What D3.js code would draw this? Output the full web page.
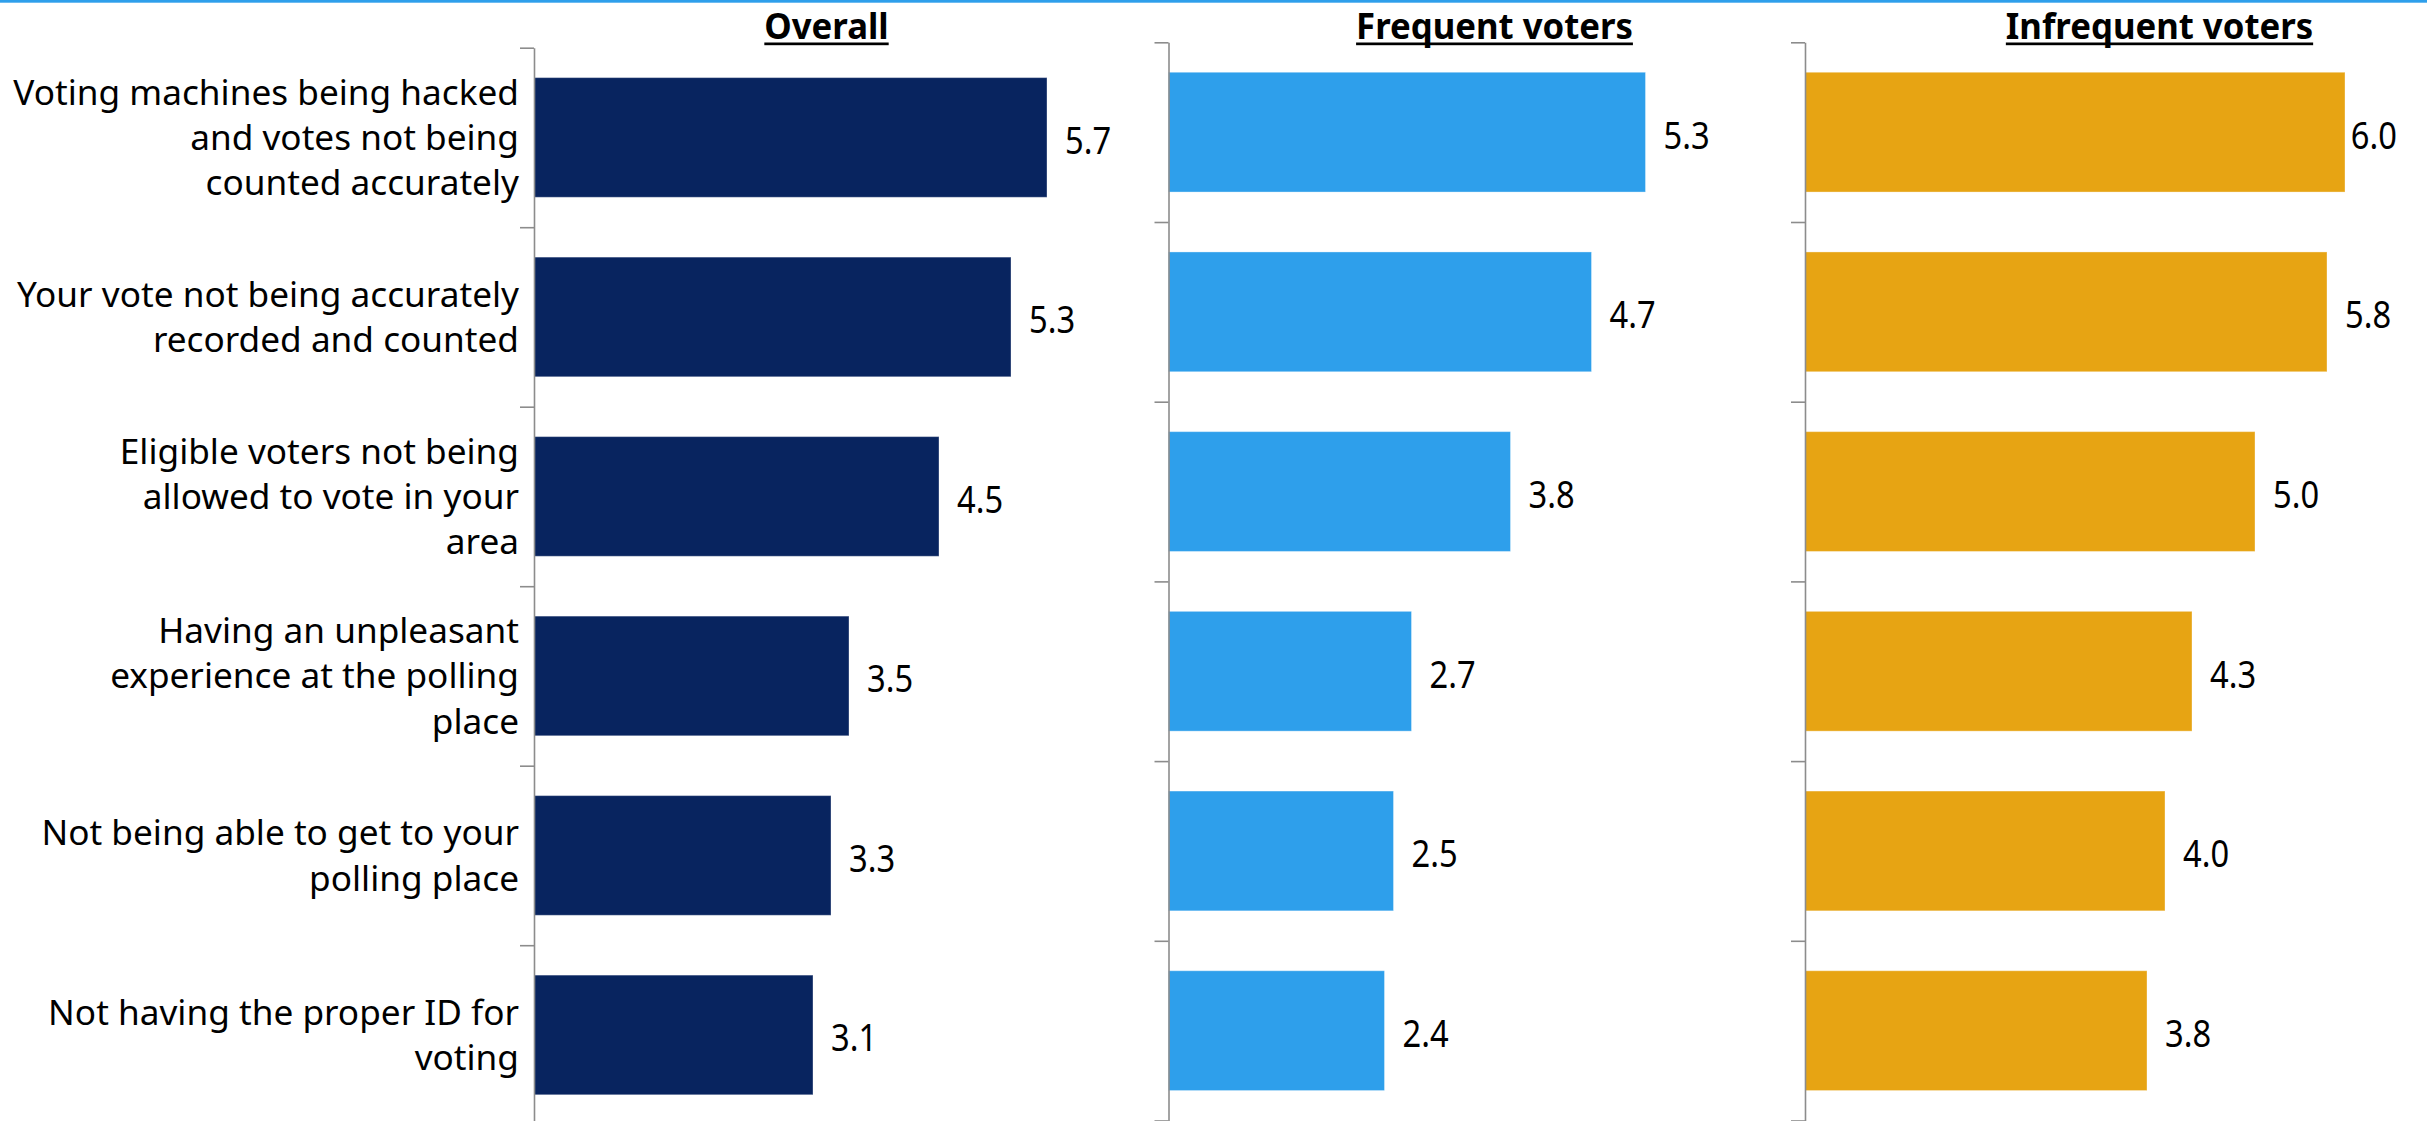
<!DOCTYPE html>
<html>
<head>
<meta charset="utf-8">
<script src="https://cdn.jsdelivr.net/npm/d3@7"></script>
<style>
  html, body { margin: 0; padding: 0; background: #ffffff; }
  svg { display: block; }
</style>
</head>
<body>
<svg id="chart" width="2427" height="1121"></svg>
<script>
// Survey items (line breaks mark where each label wraps)
const categories = [
  "Voting machines being hacked\nand votes not being\ncounted accurately",
  "Your vote not being accurately\nrecorded and counted",
  "Eligible voters not being\nallowed to vote in your\narea",
  "Having an unpleasant\nexperience at the polling\nplace",
  "Not being able to get to your\npolling place",
  "Not having the proper ID for\nvoting"
];
const panelTitles = ["Overall", "Frequent voters", "Infrequent voters"];
const overallValues = [5.7, 5.3, 4.5, 3.5, 3.3, 3.1];
const frequentValues = [5.3, 4.7, 3.8, 2.7, 2.5, 2.4];
const infrequentValues = [6.0, 5.8, 5.0, 4.3, 4.0, 3.8];
const seriesColors = ["#08245f", "#2e9feb", "#e7a413"];

const FONT = "'Noto Sans', 'Open Sans', sans-serif";
const W = 2427, H = 1121;
const svg = d3.select("#chart");

// per-text-type sizes and horizontal scaling
const TITLE_SIZE = 36, TITLE_SX = 0.965, TITLE_BASE = 39;
const CAT_SIZE = 34, CAT_SX = 1.035;
const VAL_SIZE = 38, VAL_SX = 0.86;

// thin accent rule along the top edge
svg.append("rect").attr("x", 0).attr("y", 0).attr("width", W).attr("height", 2.7).attr("fill", "#2e9feb");

const panels = [
  { title: panelTitles[0], values: overallValues, color: seriesColors[0], x0: 534, top: 47.7, step: 179.5, titleX: 826.5 },
  { title: panelTitles[1], values: frequentValues, color: seriesColors[1], x0: 1168.5, top: 42.3, step: 179.7, titleX: 1494.5 },
  { title: panelTitles[2], values: infrequentValues, color: seriesColors[2], x0: 1805, top: 42.3, step: 179.7, titleX: 2159.5 }
];
const labelMaxX = 2397;

const x = d3.scaleLinear().domain([0, 7]).range([0, 630]);

panels.forEach((p, pi) => {
  const n = categories.length;
  const bottom = p.top + p.step * n;
  const y = d3.scaleBand()
    .domain(d3.range(n))
    .range([p.top, bottom])
    .paddingInner(1 / 3)
    .paddingOuter(1 / 6);
  // boundary ticks between categories
  const yEdge = d3.scaleLinear().domain([0, n]).range([p.top, bottom]);

  const g = svg.append("g").attr("transform", `translate(${p.x0},0)`);

  // title with underline
  const tg = svg.append("g").attr("transform", `translate(${p.titleX},${TITLE_BASE}) scale(${TITLE_SX},1)`);
  const t = tg.append("text")
    .attr("x", 0).attr("y", 0)
    .attr("text-anchor", "middle")
    .attr("font-family", FONT).attr("font-weight", 700).attr("font-size", TITLE_SIZE)
    .attr("fill", "#000").text(p.title);
  const tw = t.node().getComputedTextLength() * TITLE_SX;
  svg.append("rect").attr("x", p.titleX - tw / 2).attr("y", TITLE_BASE + 3.5).attr("width", tw).attr("height", 2.7).attr("fill", "#000");

  // bars
  g.selectAll("rect.bar").data(p.values).join("rect")
    .attr("class", "bar")
    .attr("x", 0)
    .attr("y", (d, i) => y(i))
    .attr("width", d => x(d))
    .attr("height", y.bandwidth())
    .attr("fill", p.color)
    .attr("stroke", "rgba(255,255,255,0.35)")
    .attr("stroke-width", 1);

  // value labels
  g.selectAll("g.val").data(p.values).join("g")
    .attr("class", "val")
    .each(function (d, i) {
      const vg = d3.select(this);
      const txt = vg.append("text")
        .attr("font-family", FONT).attr("font-size", VAL_SIZE).attr("fill", "#000")
        .text(d.toFixed(1));
      const w = txt.node().getComputedTextLength() * VAL_SX;
      let lx = x(d) + 18;
      if (p.x0 + lx + w > labelMaxX) lx = labelMaxX - p.x0 - w;
      const ly = y(i) + y.bandwidth() / 2 + 16.5;
      vg.attr("transform", `translate(${lx},${ly}) scale(${VAL_SX},1)`);
    });

  // axis
  const axis = d3.axisLeft(yEdge).tickValues(d3.range(n + 1)).tickFormat("").tickSize(14).tickSizeOuter(0);
  const ag = g.append("g").call(axis);
  ag.select(".domain").attr("stroke", "#8c8c8c").attr("stroke-width", 1.6);
  ag.selectAll(".tick line").attr("stroke", "#8c8c8c").attr("stroke-width", 1.6);

  // category labels on the first panel only
  if (pi === 0) {
    const lineH = 45.3;
    categories.forEach((c, i) => {
      const lines = c.split("\n");
      const cy = y(i) + y.bandwidth() / 2;
      const cg = svg.append("g").attr("transform", `translate(519,0) scale(${CAT_SX},1)`);
      const txt = cg.append("text")
        .attr("text-anchor", "end")
        .attr("font-family", FONT).attr("font-size", CAT_SIZE).attr("fill", "#000");
      lines.forEach((ln, k) => {
        txt.append("tspan")
          .attr("x", 0)
          .attr("y", cy + (k - (lines.length - 1) / 2) * lineH + 12.5)
          .text(ln);
      });
    });
  }
});
</script>
</body>
</html>
